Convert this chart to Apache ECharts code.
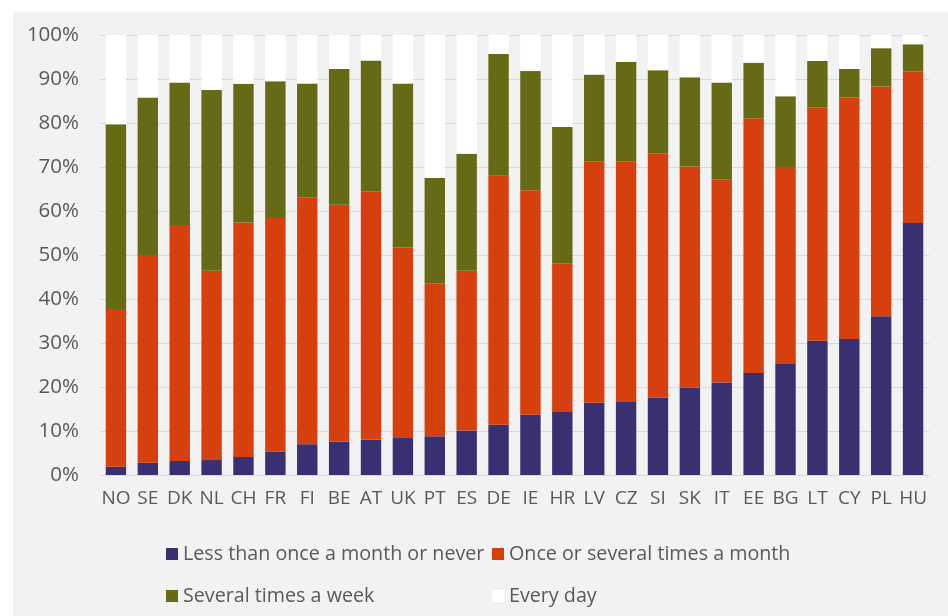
<!DOCTYPE html>
<html>
<head>
<meta charset="utf-8">
<script src="https://cdn.jsdelivr.net/npm/echarts@6/dist/echarts.min.js"></script>
<style>
html,body{margin:0;padding:0;background:#fff;}
#chart{width:948px;height:616px;}
</style>
</head>
<body>
<div id="chart"></div>
<script>
var categories = ['NO','SE','DK','NL','CH','FR','FI','BE','AT','UK','PT','ES','DE','IE','HR','LV','CZ','SI','SK','IT','EE','BG','LT','CY','PL','HU'];
var lessThanMonthly = [1.9,2.8,3.2,3.4,4.1,5.3,7.0,7.6,8.0,8.4,8.8,10.1,11.4,13.7,14.5,16.4,16.6,17.6,19.9,21.0,23.2,25.4,30.5,30.9,36.1,57.3];
var monthly = [35.8,47.2,53.6,43.0,53.3,53.1,56.1,53.8,56.5,43.3,34.8,36.3,56.6,51.0,33.6,54.9,54.6,55.5,50.2,46.2,57.9,44.6,53.1,54.9,52.2,34.4];
var weekly = [42.0,35.8,32.4,41.1,31.5,31.1,25.9,30.9,29.7,37.3,23.9,26.6,27.7,27.1,31.0,19.7,22.7,18.9,20.3,22.0,12.6,16.1,10.5,6.5,8.7,6.2];
var daily = [20.3,14.2,10.8,12.5,11.1,10.5,11.0,7.7,5.8,11.0,32.5,27.0,4.3,8.2,20.9,9.0,6.1,8.0,9.6,10.8,6.3,13.9,5.9,7.7,3.0,2.1];
var seriesNames = ['Less than once a month or never','Once or several times a month','Several times a week','Every day'];
var yTicks = {min:0, max:100, interval:10};

var FONT = '"Open Sans", "Noto Sans", sans-serif';
var TXT = '#595959';
var chart = echarts.init(document.getElementById('chart'));
function mk(name, data, color){
  return {name:name, type:'bar', stack:'total', data:data, barWidth:'64%',
    itemStyle:{color:color}, emphasis:{disabled:true}};
}
function legendCol(left, names){
  return {orient:'vertical', left:left, top:542, padding:0, itemWidth:12, itemHeight:12, itemGap:18,
     icon:'rect', data:names, selectedMode:false,
     textStyle:{color:TXT, fontSize:19.7, fontFamily:FONT, lineHeight:24}};
}
chart.setOption({
  backgroundColor:'#f2f2f2',
  animation:false,
  textStyle:{fontFamily:FONT},
  graphic:[
    {type:'rect', shape:{x:0,y:0,width:948,height:12}, style:{fill:'#ffffff'}, silent:true},
    {type:'rect', shape:{x:0,y:0,width:13,height:616}, style:{fill:'#ffffff'}, silent:true}
  ],
  grid:{left:100, right:19, top:35, bottom:141, containLabel:false},
  legend:[
    legendCol(166, [seriesNames[0], seriesNames[2]]),
    legendCol(492, [seriesNames[1], seriesNames[3]])
  ],
  xAxis:{type:'category', data:categories,
    axisLine:{show:true, lineStyle:{color:'#d9d9d9', width:1}},
    axisTick:{show:false},
    axisLabel:{color:TXT, fontSize:19, margin:14, interval:0, fontFamily:FONT}},
  yAxis:{type:'value', min:yTicks.min, max:yTicks.max, interval:yTicks.interval,
    axisLine:{show:false}, axisTick:{show:false},
    axisLabel:{color:TXT, fontSize:20.5, margin:21, formatter:'{value}%', fontFamily:FONT},
    splitLine:{lineStyle:{color:'#d9d9d9', width:1}}},
  series:[
    mk(seriesNames[0], lessThanMonthly, '#383070'),
    mk(seriesNames[1], monthly, '#d63f0e'),
    mk(seriesNames[2], weekly, '#666a14'),
    mk(seriesNames[3], daily, '#ffffff')
  ]
});
</script>
</body>
</html>
